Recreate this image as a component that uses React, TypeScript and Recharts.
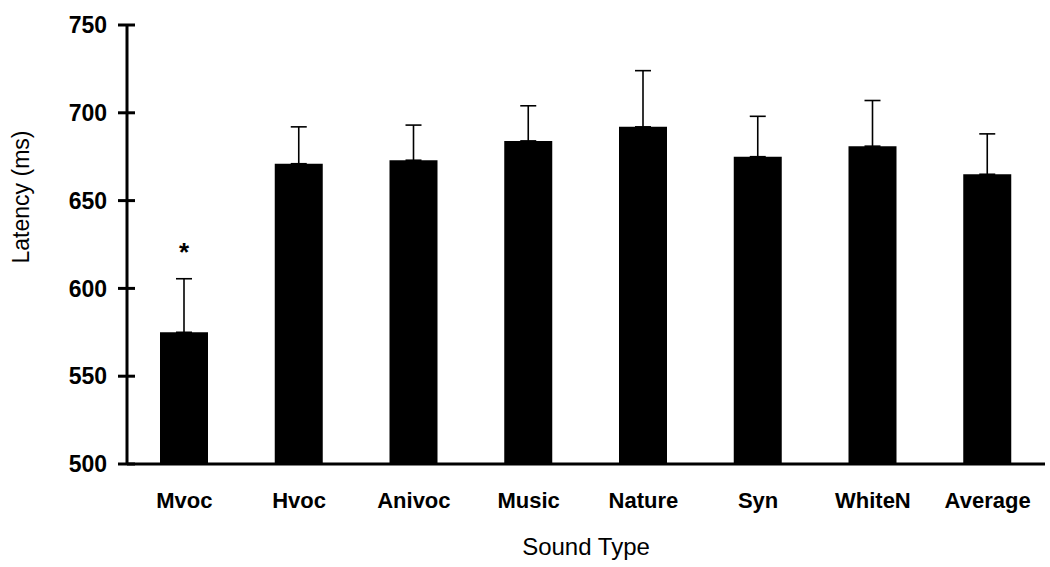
import { BarChart, Bar, XAxis, YAxis, ErrorBar, LabelList, Label } from 'recharts';

const soundTypes = ['Mvoc', 'Hvoc', 'Anivoc', 'Music', 'Nature', 'Syn', 'WhiteN', 'Average'];
const latency = [575, 671, 673, 684, 692, 675, 681, 665];
const upperError = [30.5, 21, 20, 20, 32, 23, 26, 23];
const significance = ['*', '', '', '', '', '', '', ''];
const yTicks = [500, 550, 600, 650, 700, 750];

const data = soundTypes.map((name, i) => ({
  name,
  latency: latency[i],
  err: [0, upperError[i]],
  sig: significance[i],
}));

const FONT = '"Liberation Sans", Arial, sans-serif';

function YTick(props: any) {
  const { x, y, payload } = props;
  const axisX = x + 20;
  return (
    <g>
      <line x1={axisX - 9} x2={axisX + 8} y1={y} y2={y} stroke="#000" strokeWidth={3} />
      <text x={x} y={y} dy="0.36em" textAnchor="end" fontFamily={FONT} fontWeight="bold" fontSize={23} fill="#000">
        {payload.value}
      </text>
    </g>
  );
}

function YTitle() {
  return (
    <text x={29} y={197} transform="rotate(-90 29 197)" textAnchor="middle" fontFamily={FONT} fontSize={23} fill="#000">
      Latency (ms)
    </text>
  );
}

export default function App() {
  return (
    <div style={{ position: 'absolute', left: 0, top: 0, width: 1050, height: 567, background: '#fff' }}>
      <BarChart width={1050} height={567} data={data} margin={{ top: 25, right: 5, left: 0, bottom: 0 }}>
        <XAxis
          dataKey="name"
          height={103}
          tickLine={false}
          tickSize={0}
          tickMargin={28}
          axisLine={{ stroke: '#000', strokeWidth: 3 }}
          tick={{ fill: '#000', fontFamily: FONT, fontWeight: 'bold', fontSize: 22 }}
        >
          <Label value="Sound Type" position="insideBottom" offset={12} fill="#000" fontFamily={FONT} fontSize={24} />
        </XAxis>
        <YAxis
          width={127}
          domain={[500, 750]}
          ticks={yTicks}
          interval={0}
          tickSize={8}
          tickMargin={12}
          tickLine={false}
          axisLine={{ stroke: '#000', strokeWidth: 3 }}
          tick={<YTick />}
        >
          <Label content={<YTitle />} />
        </YAxis>
        <Bar dataKey="latency" fill="#000" barSize={48} isAnimationActive={false}>
          <ErrorBar dataKey="err" width={8} stroke="#000" strokeWidth={1.6} direction="y" />
          <LabelList dataKey="sig" position="top" offset={71} fill="#000" fontFamily={FONT} fontWeight="bold" fontSize={26} />
        </Bar>
      </BarChart>
    </div>
  );
}
